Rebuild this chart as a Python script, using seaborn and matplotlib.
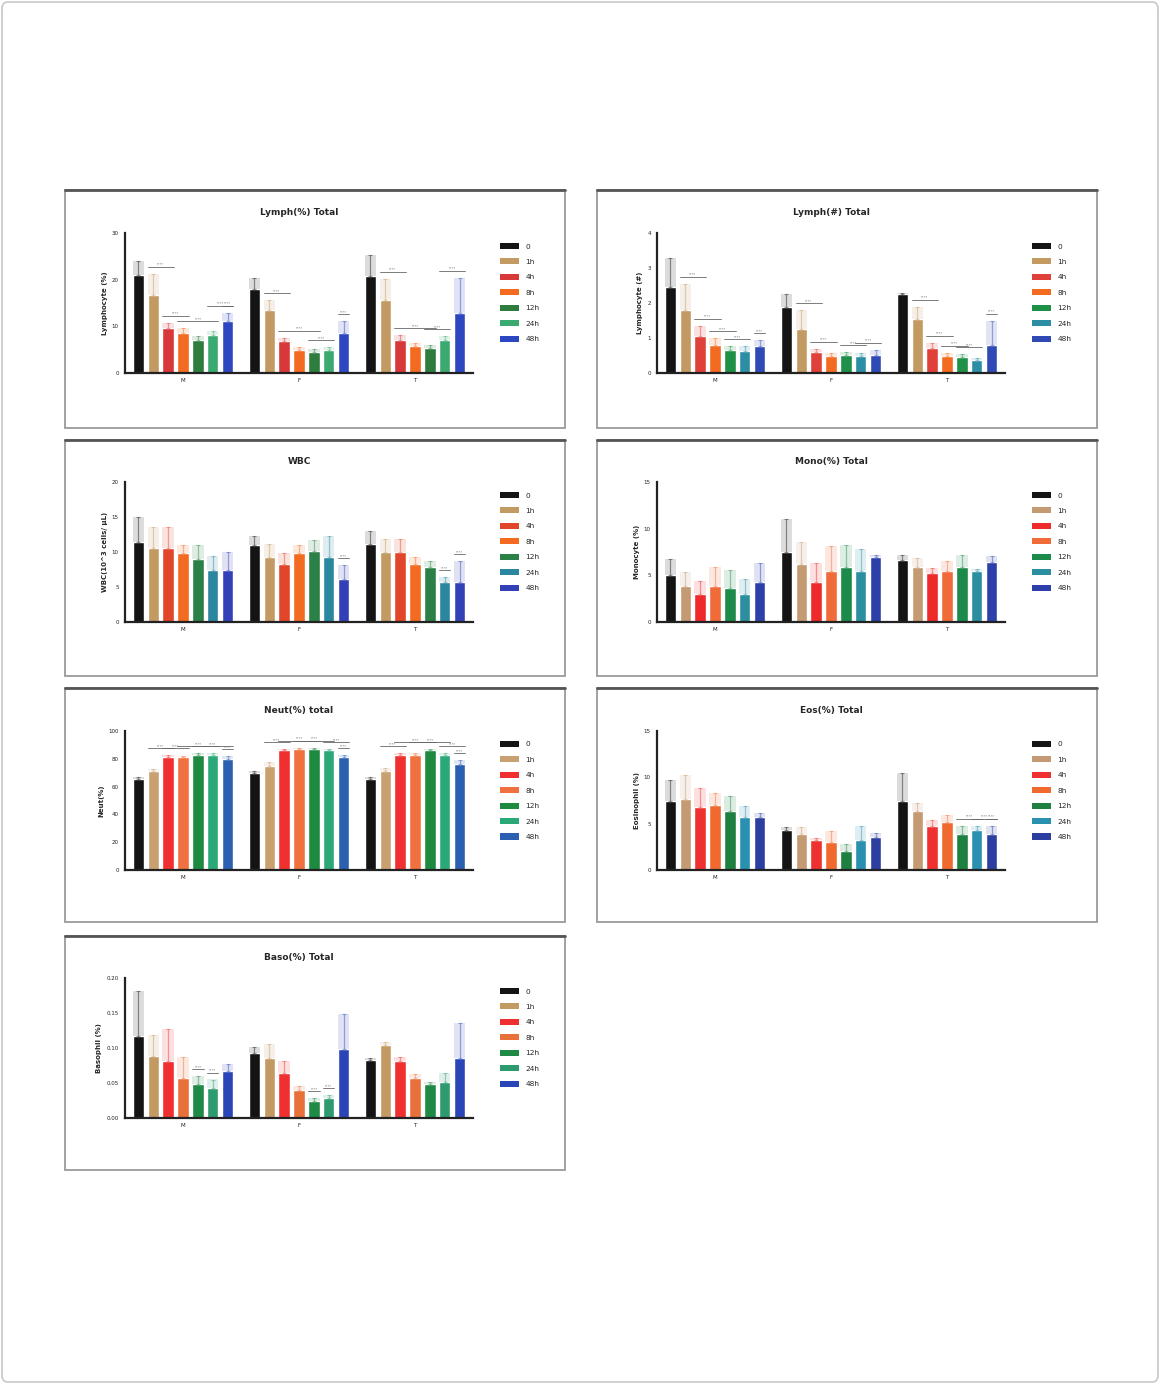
import matplotlib
matplotlib.use("Agg")
import matplotlib.pyplot as plt
from matplotlib.patches import Rectangle, FancyBboxPatch, Patch
import numpy as np
import pandas as pd
import seaborn as sns

sns.set_theme(style="white")
plt.rcParams['font.family'] = ['DejaVu Sans']

# ---------------- data ----------------
groups = ["M", "F", "T"]
times = ["0", "1h", "4h", "8h", "12h", "24h", "48h"]

titles = ["Lymph(%) Total", "Lymph(#) Total", "WBC", "Mono(%) Total",
          "Neut(%) total", "Eos(%) Total", "Baso(%) Total"]
ylabels = ["Lymphocyte (%)", "Lymphocyte (#)", "WBC(10^3 cells/ μL)", "Monocyte (%)",
           "Neut(%)", "Eosinophil (%)", "Basophil (%)"]

lymph_pct = [[21.1, 16.8, 9.6, 8.6, 7.1, 8.2, 11.1],
             [17.9, 13.6, 6.8, 5.0, 4.6, 5.0, 8.6],
             [20.7, 15.7, 7.1, 5.7, 5.4, 7.1, 12.9]]
lymph_pct_err = [[3.0, 4.5, 1.2, 1.0, 0.8, 0.8, 1.8],
                 [2.5, 2.0, 0.8, 0.6, 0.6, 0.5, 2.5],
                 [4.5, 4.5, 1.0, 0.8, 0.6, 0.8, 7.5]]

lymph_abs = [[2.45, 1.80, 1.05, 0.80, 0.65, 0.62, 0.78],
             [1.90, 1.25, 0.60, 0.50, 0.52, 0.48, 0.52],
             [2.25, 1.55, 0.72, 0.48, 0.45, 0.38, 0.80]]
lymph_abs_err = [[0.85, 0.75, 0.30, 0.20, 0.12, 0.15, 0.15],
                 [0.35, 0.55, 0.10, 0.08, 0.08, 0.10, 0.15],
                 [0.05, 0.35, 0.15, 0.10, 0.08, 0.05, 0.70]]

wbc = [[11.4, 10.5, 10.5, 9.8, 9.0, 7.4, 7.4],
       [11.0, 9.3, 8.3, 9.8, 10.2, 9.3, 6.2],
       [11.2, 10.0, 10.0, 8.3, 7.9, 5.7, 5.7]]
wbc_err = [[3.6, 3.0, 3.0, 1.2, 2.0, 2.0, 2.6],
           [1.3, 1.8, 1.5, 1.2, 1.5, 3.0, 1.9],
           [1.8, 1.8, 1.8, 1.0, 0.8, 0.7, 3.0]]

mono = [[5.0, 3.9, 3.0, 3.9, 3.6, 3.0, 4.3],
        [7.5, 6.25, 4.3, 5.5, 5.9, 5.5, 7.0],
        [6.6, 5.9, 5.2, 5.5, 5.9, 5.5, 6.4]]
mono_err = [[1.8, 1.5, 1.4, 2.0, 2.0, 1.6, 2.0],
            [3.5, 2.3, 2.0, 2.6, 2.3, 2.3, 0.2],
            [0.6, 1.0, 0.6, 1.0, 1.3, 0.2, 0.7]]

neut = [[65.5, 71.0, 81.0, 81.0, 83.0, 83.0, 80.0],
        [70.0, 75.0, 86.0, 87.0, 87.0, 86.0, 81.0],
        [65.5, 71.0, 83.0, 83.0, 86.0, 83.0, 76.0]]
neut_err = [[1.5, 2.0, 1.5, 1.0, 1.0, 1.0, 2.0],
            [1.0, 2.5, 1.0, 1.0, 1.0, 1.0, 1.5],
            [1.5, 2.5, 1.0, 1.0, 1.0, 1.0, 3.0]]

eos = [[7.5, 7.7, 6.8, 7.0, 6.4, 5.7, 5.7],
       [4.3, 3.9, 3.2, 3.0, 2.1, 3.2, 3.6],
       [7.5, 6.4, 4.8, 5.2, 3.9, 4.3, 3.9]]
eos_err = [[2.2, 2.5, 2.0, 1.3, 1.6, 1.2, 0.4],
           [0.3, 0.7, 0.2, 1.2, 0.7, 1.6, 0.4],
           [3.0, 0.8, 0.6, 0.7, 0.9, 0.5, 0.9]]

baso = [[0.117, 0.088, 0.081, 0.057, 0.048, 0.043, 0.067],
        [0.093, 0.086, 0.064, 0.040, 0.024, 0.029, 0.098],
        [0.083, 0.105, 0.081, 0.057, 0.048, 0.052, 0.086]]
baso_err = [[0.064, 0.030, 0.046, 0.030, 0.012, 0.012, 0.010],
            [0.008, 0.020, 0.018, 0.006, 0.004, 0.004, 0.050],
            [0.003, 0.003, 0.006, 0.006, 0.003, 0.012, 0.050]]

yticks = [[0, 10, 20, 30], [0, 1, 2, 3, 4], [0, 5, 10, 15, 20], [0, 5, 10, 15],
          [0, 20, 40, 60, 80, 100], [0, 5, 10, 15], [0.0, 0.05, 0.10, 0.15, 0.20]]
yfmt = ["{:.0f}", "{:.0f}", "{:.0f}", "{:.0f}", "{:.0f}", "{:.0f}", "{:.2f}"]

palettes = [
    ["#141414", "#c39a62", "#d8383a", "#f36b21", "#2e7d3e", "#3aaa70", "#2d47c0"],
    ["#141414", "#c39a62", "#e0403a", "#f36b21", "#1e9048", "#2c8ea5", "#2f4ab5"],
    ["#141414", "#c39a62", "#e2462a", "#f36b21", "#2b8048", "#2b86a0", "#3340b8"],
    ["#141414", "#c39a72", "#ee2a2a", "#f06a3a", "#1c8a4a", "#2b8fa0", "#2d3fa8"],
    ["#141414", "#c9a070", "#f03030", "#f07040", "#1e8a40", "#2ba878", "#2b5fb0"],
    ["#141414", "#c39a72", "#ee3030", "#f06a30", "#1e8040", "#2a90b0", "#2c3fa0"],
    ["#141414", "#c39a62", "#f03030", "#e8703a", "#1e8a45", "#2e9a70", "#2a45b8"],
]

# significance comparisons: (group index, first bar, last bar)
sig = [
    [(0, 1, 2), (0, 2, 3), (0, 3, 5), (0, 5, 6), (0, 6, 6),
     (1, 1, 2), (1, 2, 4), (1, 4, 5), (1, 6, 6),
     (2, 1, 2), (2, 2, 4), (2, 4, 5), (2, 5, 6)],
    [(0, 1, 2), (0, 2, 3), (0, 3, 4), (0, 4, 5), (0, 6, 6),
     (1, 1, 2), (1, 2, 3), (1, 4, 5), (1, 5, 6),
     (2, 1, 2), (2, 2, 3), (2, 3, 4), (2, 4, 5), (2, 6, 6)],
    [(1, 6, 6), (2, 5, 5), (2, 6, 6)],
    [],
    [(0, 1, 2), (0, 2, 3), (0, 3, 5), (0, 4, 6), (0, 6, 6),
     (1, 1, 2), (1, 2, 4), (1, 3, 5), (1, 5, 6), (1, 6, 6),
     (2, 1, 2), (2, 2, 4), (2, 3, 5), (2, 5, 6), (2, 6, 6)],
    [(2, 4, 5), (2, 5, 6), (2, 6, 6)],
    [(0, 4, 4), (0, 5, 5), (1, 4, 4), (1, 5, 5)],
]

values = [lymph_pct, lymph_abs, wbc, mono, neut, eos, baso]
errors = [lymph_pct_err, lymph_abs_err, wbc_err, mono_err, neut_err, eos_err, baso_err]

# ---------------- layout ----------------
W, H = 1160, 1384
fig = plt.figure(figsize=(W / 100, H / 100), dpi=100)

# outer frame
fig.patches.append(FancyBboxPatch((2 / W, 2 / H), 1 - 4 / W, 1 - 4 / H,
                                  boxstyle="round,pad=0,rounding_size=0.005",
                                  transform=fig.transFigure, fill=False,
                                  edgecolor="#c8c8c8", lw=1.2))

col_x = [65, 597]
row_y = [190, 440, 688, 936]
box_h = [238, 236, 234, 234]
ax_top = [233, 482, 731, 978]
ax_bot = [373, 622, 870, 1118]

for idx in range(7):
    r, c = divmod(idx, 2)
    bx, by = col_x[c], row_y[r]
    # panel box
    fig.patches.append(Rectangle((bx / W, 1 - (by + box_h[r]) / H), 500 / W, box_h[r] / H,
                                 transform=fig.transFigure, fill=False,
                                 edgecolor="#9a9a9a", lw=1.3))
    fig.lines.append(plt.Line2D([bx / W, (bx + 500) / W], [1 - by / H, 1 - by / H],
                                transform=fig.transFigure, color="#555555", lw=2.0))

    left = bx + 60
    ax = fig.add_axes([left / W, 1 - ax_bot[r] / H, 348 / W, (ax_bot[r] - ax_top[r]) / H])

    df = pd.DataFrame([(groups[g], times[t], values[idx][g][t])
                       for g in range(3) for t in range(7)],
                      columns=["group", "time", "value"])
    sns.barplot(data=df, x="group", y="value", hue="time", order=groups,
                hue_order=times, palette=palettes[idx], width=0.9, gap=0.25,
                errorbar=None, ax=ax, legend=False, saturation=1)
    bar_conts = list(ax.containers)

    # error bars (upper only), drawn as pale column + thin line
    for t, cont in enumerate(bar_conts):
        for g, bar in enumerate(cont):
            xc = bar.get_x() + bar.get_width() / 2
            v = values[idx][g][t]
            e = errors[idx][g][t]
            ax.bar([xc], [e], bottom=[v], width=bar.get_width(),
                   color=palettes[idx][t], alpha=0.15, linewidth=0, zorder=1)
            ax.errorbar([xc], [v], yerr=[[0], [e]], fmt="none",
                        ecolor=palettes[idx][t], alpha=0.45, elinewidth=0.9,
                        capsize=1.5, capthick=0.8, zorder=1)

    ymax = yticks[idx][-1]
    ax.set_ylim(0, ymax)
    ax.set_xlim(-0.5, 2.5)
    ax.set_yticks(yticks[idx])
    ax.set_yticklabels([yfmt[idx].format(v) for v in yticks[idx]])

    # significance lines
    stack = {}
    for (g, i, j) in sig[idx]:
        bars_i = bar_conts[i][g]
        bars_j = bar_conts[j][g]
        x0 = bars_i.get_x()
        x1 = bars_j.get_x() + bars_j.get_width()
        top = max(values[idx][g][k] + errors[idx][g][k] for k in range(i, j + 1))
        lvl = stack.get((g, i), 0)
        yl = top + ymax * (0.05 + 0.02 * lvl)
        stack[(g, i)] = lvl + 1
        ax.plot([x0, x1], [yl, yl], color="#666666", lw=0.6, clip_on=False)
        ax.text((x0 + x1) / 2, yl, "****", ha="center", va="bottom",
                fontsize=2.5, color="#666666", clip_on=False)

    ax.set_title(titles[idx], fontsize=6.5, fontweight="bold", pad=13)
    ax.set_ylabel(ylabels[idx], fontsize=5, fontweight="bold", labelpad=3)
    ax.set_xlabel("")
    ax.tick_params(axis="both", labelsize=4, length=3, width=1.2,
                   direction="out", colors="#222222", pad=1.5)
    ax.tick_params(axis="x", length=2)
    for s in ["top", "right"]:
        ax.spines[s].set_visible(False)
    for s in ["left", "bottom"]:
        ax.spines[s].set_linewidth(1.6)
        ax.spines[s].set_color("#222222")
    ax.set_facecolor("none")

    handles = [Patch(facecolor=palettes[idx][t], edgecolor="none", label=times[t])
               for t in range(7)]
    ax.legend(handles=handles, loc="upper left", bbox_to_anchor=(1.07, 0.95),
              frameon=False, fontsize=5.3, handlelength=2.5, handleheight=0.9,
              labelspacing=1.2, handletextpad=0.9, borderaxespad=0)

fig.savefig("out.png", dpi=100, facecolor="white")
